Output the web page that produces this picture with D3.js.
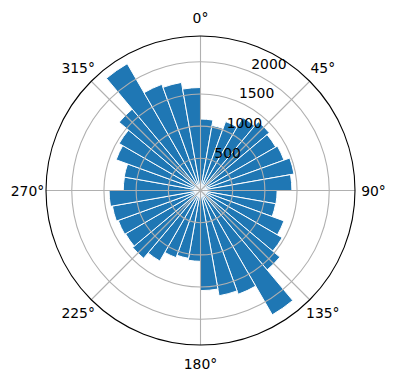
<!DOCTYPE html>
<html>
<head>
<meta charset="utf-8">
<script src="https://cdn.jsdelivr.net/npm/d3@7"></script>
<style>
  html, body { margin: 0; padding: 0; background: #fff; }
  svg { display: block; }
  text { font-family: "DejaVu Sans", sans-serif; }
</style>
</head>
<body>
<svg id="chart" width="396" height="380"></svg>
<script>
// ---- data ----
const binStartDeg = d3.range(0, 360, 10);          // bar start angles (degrees)
const binWidthDeg = 10;
const counts = [
  1110, 1025, 1140, 1310, 1395, 1350, 1380, 1475, 1420,
  1190, 1185, 1380, 1465, 1610, 2230, 1715, 1660, 1555,
  1100, 1070, 1110, 1265, 1375, 1345, 1360, 1390, 1420,
  1200, 1205, 1395, 1460, 1650, 2275, 1755, 1705, 1600
];
const radialTicks = [500, 1000, 1500, 2000];
const radialLimit = 2400;
const angleTicks = [0, 45, 90, 135, 180, 225, 270, 315];
const angleTickLabels = ["0°", "45°", "90°", "135°", "180°", "225°", "270°", "315°"];

// ---- layout ----
const cx = 200.5, cy = 190.5, R = 154.5;
const svg = d3.select("#chart");
const g = svg.append("g").attr("transform", `translate(${cx},${cy})`);

const r = d3.scaleLinear().domain([0, radialLimit]).range([0, R]);
const rad = d => d * Math.PI / 180;

// bars
const arc = d3.arc().innerRadius(0);
g.append("g").selectAll("path")
  .data(counts.map((v, i) => ({ v, a0: binStartDeg[i], a1: binStartDeg[i] + binWidthDeg })))
  .join("path")
  .attr("d", d => arc({ outerRadius: r(d.v), startAngle: rad(d.a0), endAngle: rad(d.a1) }))
  .attr("fill", "#1f77b4")
  .attr("stroke", "#ffffff")
  .attr("stroke-width", 1);

// grid
const grid = g.append("g").attr("fill", "none").attr("stroke", "#b0b0b0").attr("stroke-width", 1.1);
grid.selectAll("circle").data(radialTicks).join("circle").attr("r", d => r(d));
grid.selectAll("line").data(angleTicks).join("line")
  .attr("x1", 0).attr("y1", 0)
  .attr("x2", d => R * Math.sin(rad(d)))
  .attr("y2", d => -R * Math.cos(rad(d)));

// outer spine
g.append("circle").attr("r", R).attr("fill", "none").attr("stroke", "#000").attr("stroke-width", 1.1);

// angle labels
const labR = R + 18.5;
g.append("g").selectAll("text").data(angleTicks).join("text")
  .attr("x", d => labR * Math.sin(rad(d)))
  .attr("y", d => -labR * Math.cos(rad(d)))
  .attr("text-anchor", "middle")
  .attr("dominant-baseline", "central")
  .attr("font-size", "13.9px")
  .attr("fill", "#000")
  .text((d, i) => angleTickLabels[i]);

// radial labels at 22.5°
const rlabAngle = rad(22.5);
g.append("g").selectAll("text").data(radialTicks).join("text")
  .attr("x", d => r(d) * Math.sin(rlabAngle) + 1.5)
  .attr("y", d => -r(d) * Math.cos(rlabAngle) - 3)
  .attr("text-anchor", "start")
  .attr("font-size", "13.9px")
  .attr("fill", "#000")
  .text(d => d);
</script>
</body>
</html>
